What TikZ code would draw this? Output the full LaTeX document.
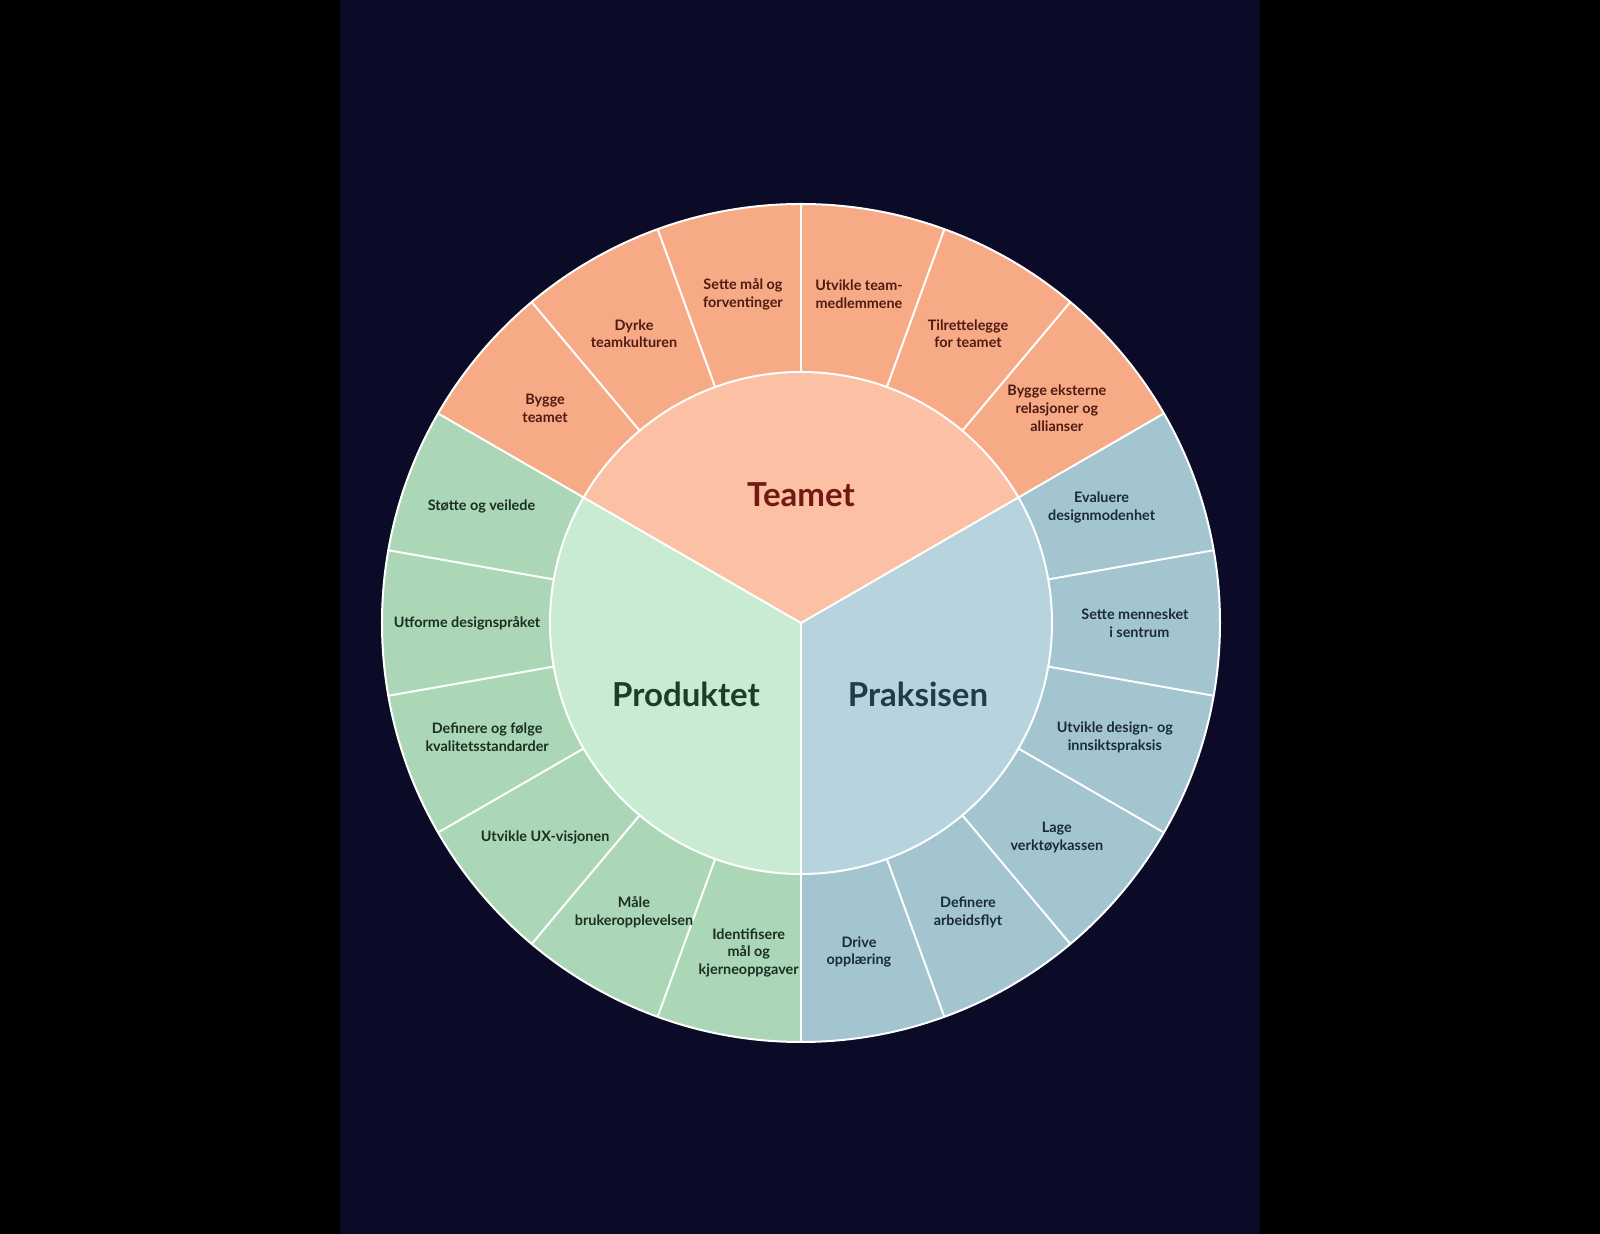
\documentclass[tikz,border=0pt]{standalone}
\usepackage{fontspec}
\setmainfont{Lato}
\definecolor{bgnavy}{HTML}{0B0B27}
\definecolor{teaminner}{HTML}{FCC0A5}
\definecolor{teamouter}{HTML}{F7AA86}
\definecolor{prodinner}{HTML}{C8EBD2}
\definecolor{prodouter}{HTML}{ACD7B7}
\definecolor{praksinner}{HTML}{B7D4DE}
\definecolor{praksouter}{HTML}{A2C5D0}
\definecolor{teamtext}{HTML}{741812}
\definecolor{prodtext}{HTML}{1E3D29}
\definecolor{prakstext}{HTML}{1E3D48}
\definecolor{teamsmall}{HTML}{4E1A12}
\definecolor{prodsmall}{HTML}{1A2E22}
\definecolor{prakssmall}{HTML}{1A2B35}
\tikzset{
  seg/.style={draw=white, line width=1pt},
  biglabel/.style={font=\fontsize{16.5}{19}\selectfont\bfseries, align=center},
  smalllabel/.style={font=\fontsize{7.2}{8.8}\selectfont\bfseries, align=center},
}
\newcommand{\outerseg}[3]{% start angle, end angle, color
  \fill[#3] (#1:251) -- (#1:419) arc[start angle=#1, end angle=#2, radius=419] -- (#2:251) arc[start angle=#2, end angle=#1, radius=251] -- cycle;
}
\begin{document}
\begin{tikzpicture}[x=0.5pt, y=0.5pt]
\useasboundingbox (-801,-611) rectangle (799,623);
\fill[black] (-801,-611) rectangle (799,623);
\fill[bgnavy] (-461,-611) rectangle (459,623);
% outer ring
\foreach \a in {30,50,70,90,110,130} {\outerseg{\a}{\a+20}{teamouter}}
\foreach \a in {150,170,190,210,230,250} {\outerseg{\a}{\a+20}{prodouter}}
\foreach \a in {-90,-70,-50,-30,-10,10} {\outerseg{\a}{\a+20}{praksouter}}
% inner sectors
\fill[teaminner] (0,0) -- (30:251) arc[start angle=30, end angle=150, radius=251] -- cycle;
\fill[prodinner] (0,0) -- (150:251) arc[start angle=150, end angle=270, radius=251] -- cycle;
\fill[praksinner] (0,0) -- (270:251) arc[start angle=270, end angle=390, radius=251] -- cycle;
% lines
\foreach \a in {50,70,90,110,130,170,190,210,230,250,-70,-50,-30,-10,10} {\draw[seg] (\a:251) -- (\a:419);}
\foreach \a in {30,150,270} {\draw[seg] (0,0) -- (\a:419);}
\draw[seg] (0,0) circle[radius=251];
\draw[seg] (0,0) circle[radius=419];
% center labels
\node[biglabel, text=teamtext] (teamet) at (0,128) {Teamet};
\node[biglabel, text=prodtext] (produktet) at (-115,-71) {Produktet};
\node[biglabel, text=prakstext] (praksisen) at (117,-71) {Praksisen};
% Teamet labels
\node[smalllabel, text=teamsmall] (t1) at (140:334) {Bygge\\teamet};
\node[smalllabel, text=teamsmall] (t2) at (120:334) {Dyrke\\teamkulturen};
\node[smalllabel, text=teamsmall] (t3) at (100:334) {Sette mål og\\forventinger};
\node[smalllabel, text=teamsmall] (t4) at (80:334) {Utvikle team-\\medlemmene};
\node[smalllabel, text=teamsmall] (t5) at (60:334) {Tilrettelegge\\for teamet};
\node[smalllabel, text=teamsmall] (t6) at (40:334) {Bygge eksterne\\relasjoner og\\allianser};
% Praksisen labels
\node[smalllabel, text=prakssmall] (s1) at (21:322) {Evaluere\\designmodenhet};
\node[smalllabel, text=prakssmall] (s2) at (0:334) {Sette mennesket\\\hspace*{0.6em}i sentrum};
\node[smalllabel, text=prakssmall] (s3) at (-20:334) {Utvikle design- og\\innsiktspraksis};
\node[smalllabel, text=prakssmall] (s4) at (-40:334) {Lage\\verktøykassen};
\node[smalllabel, text=prakssmall] (s5) at (-60:334) {Definere\\arbeidsflyt};
\node[smalllabel, text=prakssmall] (s6) at (-80:334) {Drive\\opplæring};
% Produktet labels
\node[smalllabel, text=prodsmall] (p1) at (160:340) {Støtte og veilede};
\node[smalllabel, text=prodsmall] (p2) at (180:334) {Utforme designspråket};
\node[smalllabel, text=prodsmall] (p3) at (200:334) {Definere og følge\\kvalitetsstandarder};
\node[smalllabel, text=prodsmall] (p4) at (220:334) {Utvikle UX-visjonen};
\node[smalllabel, text=prodsmall] (p5) at (240:334) {Måle\\brukeropplevelsen};
\node[smalllabel, text=prodsmall] (p6) at (261:334) {Identifisere\\mål og\\kjerneoppgaver};
\end{tikzpicture}
\end{document}
